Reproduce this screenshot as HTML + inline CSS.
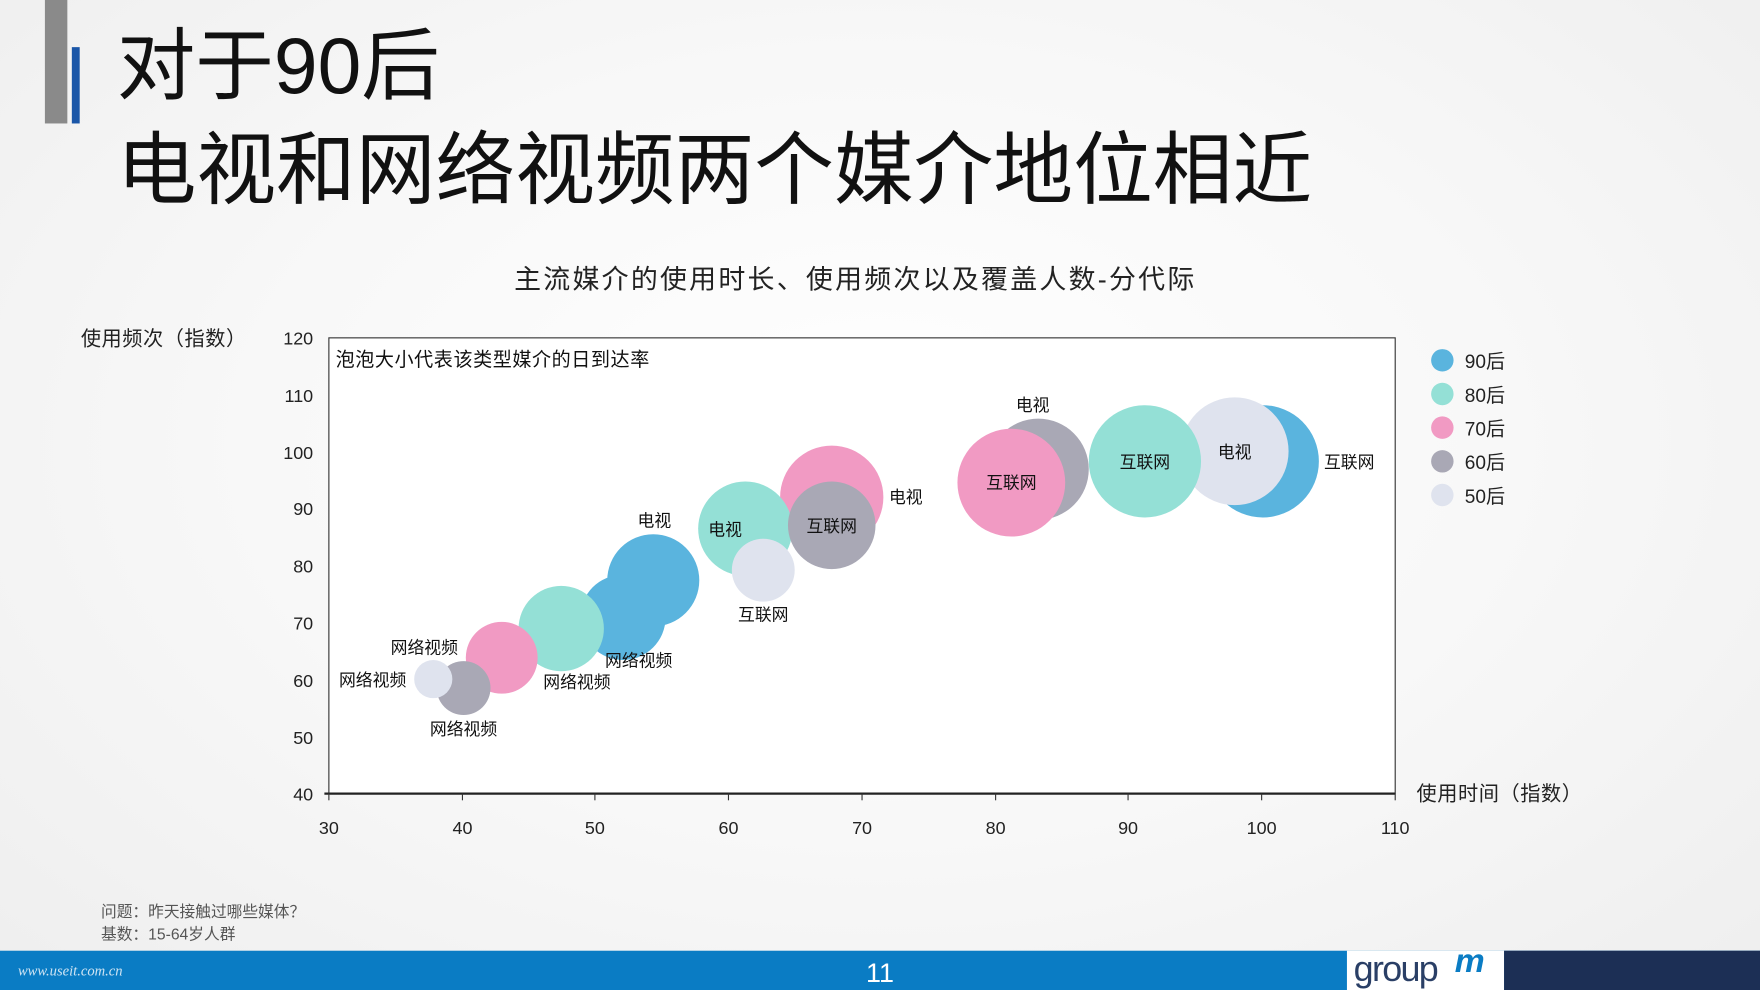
<!DOCTYPE html>
<html><head><meta charset="utf-8"><style>
html,body{margin:0;padding:0;width:1760px;height:990px;overflow:hidden;background:#f4f4f4}
#w{position:absolute;left:0;top:0;width:1568px;height:882px;transform:scale(1.12245);transform-origin:0 0;background:radial-gradient(ellipse at 50% 45%,#ffffff 0%,#f8f8f8 50%,#eeeeee 100%);font-family:"Liberation Sans","Noto Sans CJK SC",sans-serif}
.t{position:absolute;white-space:nowrap}
</style></head><body><div id="w">
<div style="position:absolute;left:40px;top:0;width:20px;height:110px;background:#8a8a8a"></div>
<div style="position:absolute;left:64px;top:42px;width:7px;height:68px;background:#1a56a8"></div>
<div class="t" style="left:104px;top:18px;font-size:70px;color:#111;line-height:82px">对于90后</div>
<div class="t" style="left:104px;top:112px;font-size:71px;color:#111;line-height:82px">电视和网络视频两个媒介地位相近</div>
<div class="t" style="left:458px;top:229px;font-size:24px;letter-spacing:2px;color:#222">主流媒介的使用时长、使用频次以及覆盖人数-分代际</div>
<svg style="position:absolute;left:0;top:0" width="1568" height="882" font-family="Liberation Sans,Noto Sans CJK SC,sans-serif">
<rect x="293" y="301" width="950" height="406" fill="#fff" stroke="#333" stroke-width="1"/>
<line x1="289" y1="707" x2="1243" y2="707" stroke="#222" stroke-width="2"/>
<g stroke="#333" stroke-width="1">
<line x1="293" y1="707" x2="293" y2="713"/><line x1="412" y1="707" x2="412" y2="713"/><line x1="530" y1="707" x2="530" y2="713"/><line x1="649" y1="707" x2="649" y2="713"/><line x1="768" y1="707" x2="768" y2="713"/><line x1="887" y1="707" x2="887" y2="713"/><line x1="1005" y1="707" x2="1005" y2="713"/><line x1="1124" y1="707" x2="1124" y2="713"/><line x1="1243" y1="707" x2="1243" y2="713"/>
</g>
<g font-size="16" fill="#222" text-anchor="end">
<text x="279" y="307">120</text><text x="279" y="358">110</text><text x="279" y="409">100</text><text x="279" y="459">90</text><text x="279" y="510">80</text><text x="279" y="561">70</text><text x="279" y="612">60</text><text x="279" y="663">50</text><text x="279" y="713">40</text>
</g>
<g font-size="16" fill="#222" text-anchor="middle">
<text x="293" y="743">30</text><text x="412" y="743">40</text><text x="530" y="743">50</text><text x="649" y="743">60</text><text x="768" y="743">70</text><text x="887" y="743">80</text><text x="1005" y="743">90</text><text x="1124" y="743">100</text><text x="1243" y="743">110</text>
</g>
<text x="72" y="308" font-size="18" fill="#222" letter-spacing="0.5">使用频次（指数）</text>
<text x="1262" y="713" font-size="18" fill="#222" letter-spacing="0.5">使用时间（指数）</text>
<text x="299" y="326" font-size="17" fill="#111" letter-spacing="0.5">泡泡大小代表该类型媒介的日到达率</text>
<circle cx="1125" cy="411" r="50" fill="#5ab4de"/>
<circle cx="1100" cy="402" r="48" fill="#dfe3ee"/>
<circle cx="1020" cy="411" r="50" fill="#94e0d6"/>
<circle cx="925" cy="418" r="45" fill="#a9a8b5"/>
<circle cx="901" cy="430" r="48" fill="#f19ac3"/>
<circle cx="741" cy="443" r="46" fill="#f19ac3"/>
<circle cx="664" cy="471" r="42" fill="#94e0d6"/>
<circle cx="741" cy="468" r="39" fill="#a9a8b5"/>
<circle cx="680" cy="508" r="28" fill="#dfe3ee"/>
<circle cx="555" cy="550" r="38" fill="#5ab4de"/>
<circle cx="582" cy="517" r="41" fill="#5ab4de"/>
<circle cx="500" cy="560" r="38" fill="#94e0d6"/>
<circle cx="447" cy="586" r="32" fill="#f19ac3"/>
<circle cx="413" cy="613" r="24" fill="#a9a8b5"/>
<circle cx="386" cy="605" r="17" fill="#dfe3ee"/>
<g font-size="15" fill="#111" text-anchor="middle">
<text x="1100" y="408">电视</text><text x="1202" y="417">互联网</text><text x="1020" y="417">互联网</text>
<text x="920" y="366">电视</text><text x="901" y="435">互联网</text>
<text x="807" y="448">电视</text><text x="741" y="474">互联网</text>
<text x="646" y="477">电视</text><text x="680" y="553">互联网</text>
<text x="583" y="469">电视</text><text x="569" y="594">网络视频</text>
<text x="514" y="613">网络视频</text><text x="378" y="582">网络视频</text>
<text x="413" y="655">网络视频</text><text x="332" y="611">网络视频</text>
</g>
<g font-size="17" fill="#222">
<circle cx="1285" cy="321" r="10" fill="#5ab4de"/><text x="1305" y="328">90后</text>
<circle cx="1285" cy="351" r="10" fill="#94e0d6"/><text x="1305" y="358">80后</text>
<circle cx="1285" cy="381" r="10" fill="#f19ac3"/><text x="1305" y="388">70后</text>
<circle cx="1285" cy="411" r="10" fill="#a9a8b5"/><text x="1305" y="418">60后</text>
<circle cx="1285" cy="441" r="10" fill="#dfe3ee"/><text x="1305" y="448">50后</text>
</g>
<text x="90" y="817" font-size="14" fill="#555">问题：昨天接触过哪些媒体？</text>
<text x="90" y="837" font-size="14" fill="#555">基数：15-64岁人群</text>
<rect x="0" y="847" width="1568" height="35" fill="#0a7cc4"/>
<rect x="1200" y="847" width="140" height="35" fill="#fff"/>
<rect x="1340" y="847" width="228" height="35" fill="#1c2f55"/>
<text x="784" y="875" font-size="24" fill="#fff" text-anchor="middle">11</text>
<text x="16" y="869" font-size="13" fill="#cfe4f3" font-style="italic" font-family="Liberation Serif,serif">www.useit.com.cn</text>
<text x="1206" y="874" font-size="32" fill="#2a3f66" letter-spacing="-1.5">group</text>
<text x="1296" y="866" font-size="30" fill="#0a7cc4" font-style="italic" font-weight="bold">m</text>
</svg>
</div></body></html>
